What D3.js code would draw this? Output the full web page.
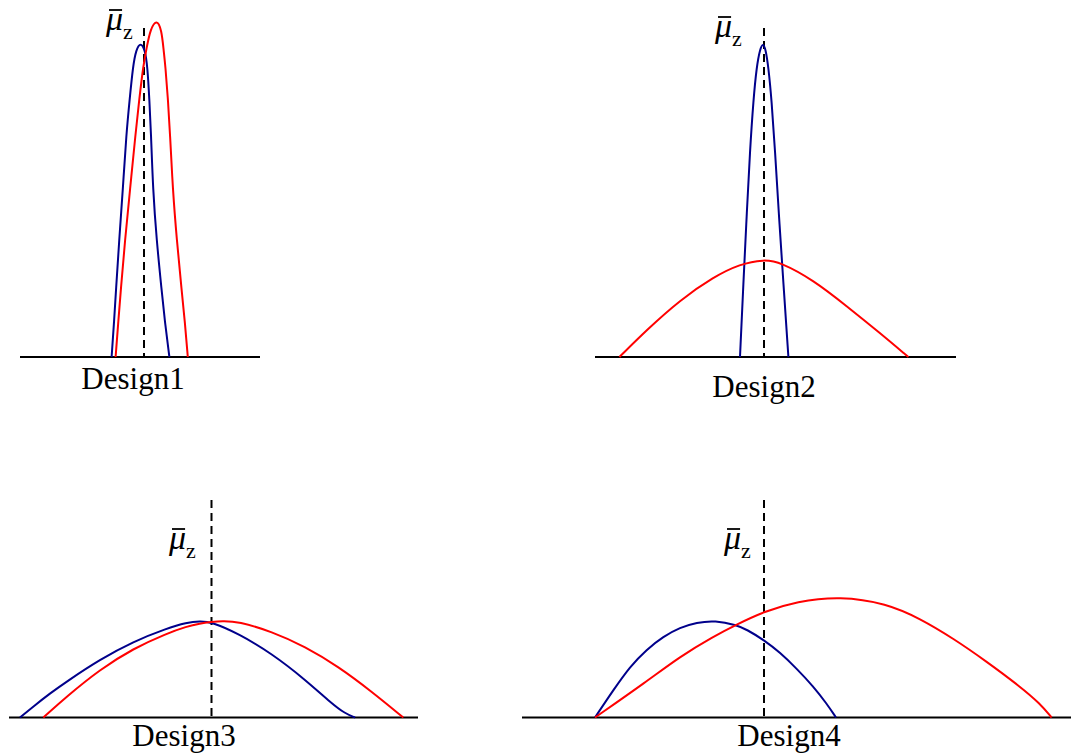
<!DOCTYPE html>
<html>
<head>
<meta charset="utf-8">
<script src="https://cdn.jsdelivr.net/npm/d3@7"></script>
<style>
  body { margin: 0; background: #fff; }
  svg { display: block; }
  .designLabel { font-family: "Liberation Serif", "Times New Roman", serif; font-size: 31px; fill: #000; }
  .mu { font-family: "Liberation Serif", "Times New Roman", serif; font-style: italic; font-size: 34px; fill: #000; }
  .sub { font-family: "Liberation Serif", "Times New Roman", serif; font-size: 22px; fill: #000; }
</style>
</head>
<body>
<div id="chart"></div>
<script>
// curves: [offset from mean z, density]
var design1Blue = [[-1.62,0],[-1.5,0.34],[-1.4,0.67],[-1.24,1.17],[-1.06,1.67],[-0.88,2.24],[-0.72,2.57],[-0.55,2.91],[-0.4,3.07],[-0.17,3.15],[0.05,3.07],[0.17,2.91],[0.27,2.57],[0.35,2.24],[0.45,1.67],[0.63,1.17],[0.88,0.67],[1.05,0.34],[1.27,0]];
var design1Red = [[-1.42,0],[-1.29,0.34],[-1.16,0.67],[-0.95,1.17],[-0.7,1.67],[-0.42,2.24],[-0.24,2.57],[-0.04,2.91],[0.14,3.1],[0.32,3.28],[0.64,3.38],[0.88,3.27],[0.98,3.07],[1.07,2.91],[1.2,2.57],[1.3,2.24],[1.44,1.67],[1.64,1.17],[1.88,0.67],[2.05,0.34],[2.19,0]];

var design2Blue = [[-1.2,0],[-1.03,0.74],[-0.87,1.4],[-0.7,2.07],[-0.53,2.57],[-0.37,2.9],[-0.2,3.08],[-0.05,3.14],[0.08,3.08],[0.22,2.9],[0.38,2.57],[0.55,2.07],[0.75,1.4],[0.97,0.74],[1.22,0]];
var design2Red = [[-7.23,0],[-5.87,0.27],[-4.2,0.57],[-2.53,0.8],[-1.2,0.93],[0,0.975],[0.8,0.95],[2.47,0.77],[4.13,0.51],[5.8,0.24],[7.22,0]];

var design3Blue = [[-9.58,0],[-8.91,0.11],[-8.08,0.24],[-7.24,0.36],[-5.58,0.58],[-3.91,0.76],[-2.24,0.89],[-1.24,0.95],[-0.58,0.965],[0,0.955],[1.34,0.84],[3.01,0.64],[4.68,0.38],[6.01,0.14],[6.68,0.04],[7.18,0]];
var design3Red = [[-8.41,0],[-7.24,0.21],[-5.58,0.48],[-3.91,0.69],[-2.24,0.84],[-1.24,0.91],[-0.58,0.94],[0,0.955],[0.51,0.965],[1.34,0.96],[3.01,0.86],[4.68,0.71],[6.34,0.51],[8.01,0.26],[9.59,0]];

var design4Blue = [[-8.45,0],[-7.53,0.275],[-6.7,0.51],[-5.87,0.68],[-5.03,0.81],[-4.2,0.9],[-3.37,0.95],[-2.45,0.97],[-1.37,0.925],[-0.87,0.88],[0,0.775],[0.8,0.65],[1.63,0.49],[2.47,0.31],[3.13,0.14],[3.6,0]];
var design4Red = [[-8.45,0],[-5.87,0.36],[-4.2,0.61],[-2.53,0.81],[-1.37,0.93],[0,1.06],[1.63,1.16],[3.8,1.215],[6.13,1.14],[7.8,0.99],[9.47,0.79],[11.13,0.56],[12.8,0.31],[13.8,0.14],[14.38,0]];

// axis extents (same units as the curves)
var design1Axis = [-6.2, 5.8];
var design2Axis = [-8.45, 9.6];
var design3Axis = [-10.125, 10.325];
var design4Axis = [-12.1, 15.35];

var panelNames = ["Design1", "Design2", "Design3", "Design4"];
var meanLabel = "\u03bc";
var meanSub = "z";

var width = 1071, height = 753;

// layout of each panel in pixels
var panels = [
  {name: panelNames[0], blue: design1Blue, red: design1Red, axis: design1Axis,
   left: 20, right: 260, baseY: 357, dashTop: 28, labelX: 133, labelY: 389, muX: 106, muY: 30},
  {name: panelNames[1], blue: design2Blue, red: design2Red, axis: design2Axis,
   left: 595, right: 956, baseY: 357, dashTop: 28, labelX: 764, labelY: 397, muX: 715, muY: 37},
  {name: panelNames[2], blue: design3Blue, red: design3Red, axis: design3Axis,
   left: 9, right: 418, baseY: 717.5, dashTop: 500, labelX: 184, labelY: 746, muX: 169, muY: 549},
  {name: panelNames[3], blue: design4Blue, red: design4Red, axis: design4Axis,
   left: 522, right: 1071, baseY: 717.5, dashTop: 500, labelX: 789, labelY: 746, muX: 724, muY: 549}
];

var svg = d3.select("#chart").append("svg")
    .attr("width", width)
    .attr("height", height);

panels.forEach(function(p) {
  var x = d3.scaleLinear().domain(p.axis).range([p.left, p.right]);
  var y = d3.scaleLinear().domain([0, 1]).range([p.baseY, p.baseY - 100]);

  var g = svg.append("g").attr("class", "panel");

  var line = d3.line()
      .x(function(d) { return x(d[0]); })
      .y(function(d) { return y(d[1]); })
      .curve(d3.curveBasis);

  // baseline
  g.append("line")
      .attr("x1", x(p.axis[0]))
      .attr("x2", x(p.axis[1]))
      .attr("y1", y(0))
      .attr("y2", y(0))
      .attr("stroke", "#000")
      .attr("stroke-width", 2);

  // mean line
  g.append("line")
      .attr("x1", x(0))
      .attr("x2", x(0))
      .attr("y1", p.dashTop)
      .attr("y2", y(0))
      .attr("stroke", "#000")
      .attr("stroke-width", 2)
      .attr("stroke-dasharray", "8,5");

  g.append("path")
      .datum(p.blue)
      .attr("d", line)
      .attr("fill", "none")
      .attr("stroke", "#00008b")
      .attr("stroke-width", 2);

  g.append("path")
      .datum(p.red)
      .attr("d", line)
      .attr("fill", "none")
      .attr("stroke", "#ff0000")
      .attr("stroke-width", 2);

  g.append("text")
      .attr("class", "designLabel")
      .attr("x", p.labelX)
      .attr("y", p.labelY)
      .attr("text-anchor", "middle")
      .text(p.name);

  // mu bar z label
  var mu = g.append("text")
      .attr("class", "mu")
      .attr("x", p.muX)
      .attr("y", p.muY)
      .text(meanLabel);
  var bb = mu.node().getBBox();
  g.append("line")
      .attr("x1", bb.x + 4)
      .attr("x2", bb.x + bb.width - 1)
      .attr("y1", p.muY - 20)
      .attr("y2", p.muY - 20)
      .attr("stroke", "#000")
      .attr("stroke-width", 1.8);
  g.append("text")
      .attr("class", "sub")
      .attr("x", bb.x + bb.width)
      .attr("y", p.muY + 9)
      .text(meanSub);
});
</script>
</body>
</html>
